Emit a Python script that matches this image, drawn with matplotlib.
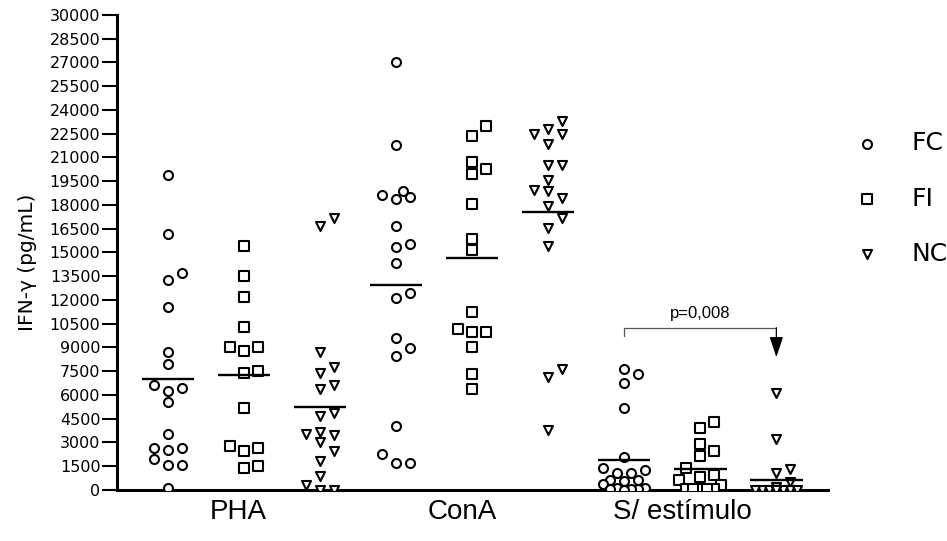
import numpy as np
import matplotlib
matplotlib.use('Agg')
import matplotlib.pyplot as plt

# IFN-gamma (pg/mL)
pha_fc = [19900, 16150, 13700, 13250, 11550, 8700, 7950, 6600, 6450, 6250,
          5550, 3550, 2650, 2650, 2500, 1950, 1600, 1600, 100]
pha_fi = [15400, 13500, 12200, 10300, 9000, 9000, 8800, 7500, 7400, 5200,
          2800, 2650, 2450, 1500, 1400]
pha_nc = [17150, 16650, 8700, 7750, 7400, 6650, 6350, 4850, 4650, 3650,
          3550, 3450, 3050, 2450, 1800, 900, 300, 0, 0]
cona_fc = [27000, 21800, 18900, 18650, 18500, 18350, 16650, 15550, 15350, 14350,
           12450, 12100, 9600, 8950, 8450, 4050, 2300, 1700, 1700]
cona_fi = [23000, 22350, 20700, 20300, 19950, 18050, 15850, 15150, 11250, 10150,
           9950, 9950, 9050, 7300, 6400]
cona_nc = [23300, 22800, 22500, 22500, 21850, 20550, 20550, 19600, 18950, 18900,
           18450, 17950, 17150, 16550, 15400, 7650, 7150, 3800]
sem_fc = [7650, 7350, 6750, 5150, 2100, 1400, 1250, 1050, 1050, 650,
          650, 550, 400, 100, 100, 50, 50, 50, 0]
sem_fi = [4300, 3900, 2900, 2450, 2150, 1400, 950, 850, 650, 300,
          50, 50, 50, 50, 50]
sem_nc = [6100, 3200, 1350, 1100, 500, 200, 0, 0, 0, 0,
          0, 0, 0, 0, 0, 0, 0, 0, 0]

groups = ['PHA', 'ConA', 'S/ estímulo']
series = ['FC', 'FI', 'NC']
markers = ['o', 's', 'v']
data = [[pha_fc, pha_fi, pha_nc],
        [cona_fc, cona_fi, cona_nc],
        [sem_fc, sem_fi, sem_nc]]
yticks = list(range(0, 30001, 1500))
p_text = 'p=0,008'

fig = plt.figure(figsize=(9.47, 5.41), dpi=100)
ax = fig.add_axes([0.1236, 0.0943, 0.7508, 0.878])
ax.set_xlim(0.33, 9.68)
ax.set_ylim(0, 30000)


def swarm(vals, xc, d=11.0):
    # simple beeswarm in pixel space, returns x positions in data units
    order = np.argsort(vals, kind='stable')
    px_unit = ax.transData.transform((1, 0))[0] - ax.transData.transform((0, 0))[0]
    cands = [0, 14, -14, 7, -7, 21, -21]
    placed = []
    xs = np.zeros(len(vals))
    for i in order:
        y = ax.transData.transform((xc, vals[i]))[1]
        best = None
        for c in cands:
            if all(np.hypot(c - px, y - py) >= d for px, py in placed):
                best = c
                break
        if best is None:
            best = max(cands, key=lambda c: min(np.hypot(c - px, y - py) for px, py in placed))
        placed.append((best, y))
        xs[i] = xc + best / px_unit
    return xs


for g, grp in enumerate(data):
    for k, vals in enumerate(grp):
        xc = 1 + 3 * g + k
        xs = swarm(vals, xc)
        ax.scatter(xs, vals, marker=markers[k], s=42, facecolors='white',
                   edgecolors='black', linewidths=1.5, zorder=3,
                   label=series[k] if g == 0 else None)
        ax.hlines(np.mean(vals), xc - 0.345, xc + 0.345, color='black', lw=1.7, zorder=4)

for side in ['top', 'right']:
    ax.spines[side].set_visible(False)
for side in ['left', 'bottom']:
    ax.spines[side].set_linewidth(2.2)

ax.set_yticks(yticks)
ax.set_yticklabels([str(t) for t in yticks], fontsize=11.5)
ax.tick_params(axis='y', length=11, width=1.5, pad=1)
ax.set_xticks([])
ax.set_ylabel('IFN-γ (pg/mL)', fontsize=14.5)
ax.yaxis.set_label_coords(-0.113, 0.48)

for g, name in enumerate(groups):
    ax.text([1.92, 4.87, 7.76][g], -0.02, name, transform=ax.get_xaxis_transform(),
            ha='center', va='top', fontsize=20, family='Liberation Sans')

# significance bracket
ax.plot([7, 7, 9], [9725, 10250, 10250], color='#555555', lw=0.9, clip_on=False)
ax.annotate('', xy=(9, 8390), xytext=(9, 10250),
            arrowprops=dict(arrowstyle='-|>,head_length=0.9,head_width=0.3',
                            color='black', lw=0.9, mutation_scale=14, shrinkA=0, shrinkB=0))
ax.text(8, 10700, p_text, ha='center', va='bottom', fontsize=12, family='Liberation Sans')

ax.legend(loc='upper left', bbox_to_anchor=(0.9023, 0.757), bbox_transform=fig.transFigure,
          frameon=False, fontsize=18, scatterpoints=1, handlelength=1.0,
          handletextpad=1.3, labelspacing=1.25, borderpad=0, borderaxespad=0)

plt.savefig('out.png', dpi=100)
